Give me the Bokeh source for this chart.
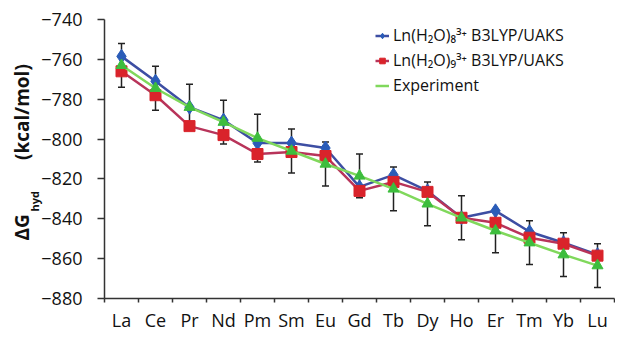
from bokeh.plotting import figure
from bokeh.models import (ColumnDataSource, FixedTicker, Range1d, Whisker, TeeHead,
                          Legend, LegendItem, Title)
from bokeh.embed import file_html
from bokeh.resources import INLINE

elements = ["La", "Ce", "Pr", "Nd", "Pm", "Sm", "Eu", "Gd", "Tb", "Dy", "Ho", "Er", "Tm", "Yb", "Lu"]
oct_b3lyp = [-758.5, -771, -784, -790.5, -802, -802, -804.5, -824, -818, -826, -839.5, -836, -846.5, -852, -858]
non_b3lyp = [-766, -778, -793.5, -798, -807.5, -806.5, -808.5, -826, -821.5, -826.5, -839.5, -842, -849.5, -852.5, -858.5]
experiment = [-763, -774.5, -784, -791.5, -799.5, -806, -812.5, -818.5, -825, -832.5, -839.5, -846, -852, -858, -863.5]
exp_error = [11, 11, 11.5, 11, 12, 11, 11, 11, 11, 11, 11, 11, 11, 11, 11]
y_ticks = [-740, -760, -780, -800, -820, -840, -860, -880]

xs = [i + 0.5 for i in range(len(elements))]
src = ColumnDataSource(dict(
    x=xs, oct=oct_b3lyp, non=non_b3lyp, exp=experiment,
    up=[e + d for e, d in zip(experiment, exp_error)],
    lo=[e - d for e, d in zip(experiment, exp_error)],
))

FONT = "Open Sans"
p = figure(width=615, height=334, output_backend="svg", toolbar_location=None,
           x_range=Range1d(0, len(elements)), y_range=Range1d(-880, -740),
           min_border_left=104, min_border_right=1, min_border_top=19, min_border_bottom=29)
p.outline_line_color = None
p.grid.visible = False
p.background_fill_color = "white"
p.border_fill_color = "white"

xa = p.xaxis[0]
xa.ticker = FixedTicker(ticks=xs, minor_ticks=list(range(0, len(elements) + 1)))
xa.major_label_overrides = {x: e for x, e in zip(xs, elements)}
xa.major_tick_out = 0
xa.major_tick_in = 0
xa.minor_tick_out = 4
xa.minor_tick_in = 0
xa.major_label_standoff = 5
xa.major_label_text_font = FONT
xa.major_label_text_font_size = "18px"
xa.major_label_text_color = "#111111"
xa.axis_line_color = "#333333"
xa.axis_line_width = 1.5
xa.minor_tick_line_color = "#333333"
xa.minor_tick_line_width = 1.5

ya = p.yaxis[0]
ya.ticker = FixedTicker(ticks=y_ticks)
ya.major_tick_out = 7
ya.major_tick_in = 0
ya.minor_tick_line_color = None
ya.major_label_standoff = 15
ya.major_label_text_font = FONT
ya.major_label_text_font_size = "18px"
ya.major_label_text_color = "#111111"
ya.axis_line_color = "#333333"
ya.axis_line_width = 1.5
ya.major_tick_line_color = "#333333"
ya.major_tick_line_width = 1.5

# y-axis title: "ΔG" + subscript "hyd" + "(kcal/mol)" as two stacked side titles
sub_title = Title(text="hyd", align="left", offset=87, standoff=-6, vertical_align="bottom",
                  text_font=FONT, text_font_style="bold", text_font_size="11px", text_color="#111111")
main_title = Title(text="\u0394G" + "\u00a0" * 11 + "(kcal/mol)", align="left", offset=58, standoff=-14,
                   vertical_align="bottom",
                   text_font=FONT, text_font_style="bold", text_font_size="19px", text_color="#111111")
p.add_layout(sub_title, "left")
p.add_layout(main_title, "left")

w = Whisker(source=src, base="x", upper="up", lower="lo", line_color="#222222", line_width=1.5,
            upper_head=TeeHead(size=7, line_color="#222222", line_width=1.5),
            lower_head=TeeHead(size=7, line_color="#222222", line_width=1.5))
p.add_layout(w)

bl = p.line("x", "oct", source=src, line_color="#3d4ea3", line_width=2.5)
bm = p.scatter("x", "oct", source=src, marker="diamond", size=14, fill_color="#2a5cb8", line_color="#2a5cb8")
rl = p.line("x", "non", source=src, line_color="#b8345a", line_width=2.5)
rm = p.scatter("x", "non", source=src, marker="square", size=11, fill_color="#d9232b", line_color="#d9232b")
gl = p.line("x", "exp", source=src, line_color="#80d85c", line_width=2.5)
gm = p.scatter("x", "exp", source=src, marker="triangle", size=11, fill_color="#3dbd3d", line_color="#3dbd3d")
gstar = p.scatter(x=[], y=[], marker="star", size=12, fill_color="#3dbd3d", line_color="#3dbd3d")

legend = Legend(items=[
    LegendItem(label="Ln(H\u2082O)\u2088\u00b3\u207a B3LYP/UAKS", renderers=[bl, bm]),
    LegendItem(label="Ln(H\u2082O)\u2089\u00b3\u207a B3LYP/UAKS", renderers=[rl, rm]),
    LegendItem(label="Experiment", renderers=[gl, gstar]),
], location=(271, 202))
legend.label_text_font = FONT
legend.label_text_font_size = "16px"
legend.label_text_color = "#111111"
legend.glyph_width = 14
legend.glyph_height = 19
legend.label_height = 19
legend.label_standoff = 4
legend.spacing = 3
legend.padding = 4
legend.margin = 0
legend.border_line_color = None
legend.background_fill_alpha = 0
p.add_layout(legend)

open("out.html", "w").write(file_html(p, INLINE))
